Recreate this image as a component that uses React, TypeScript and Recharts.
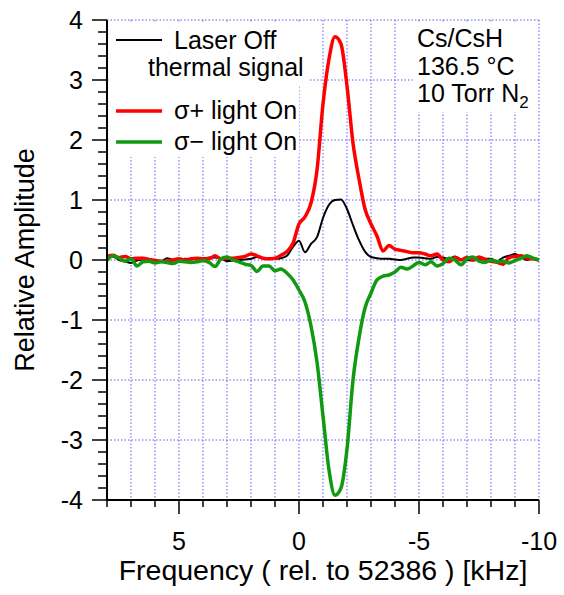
import { LineChart, Line, XAxis, YAxis, CartesianGrid } from "recharts";

const FONT = "'Liberation Sans', Arial, Helvetica, sans-serif";
const GRID_COLOR = "#5c5cf5";

// frequency (kHz, rel. to 52386), 0.25 kHz steps from 8 down to -10
const FREQ = [
  8, 7.75, 7.5, 7.25, 7, 6.75, 6.5, 6.25, 6,
  5.75, 5.5, 5.25, 5, 4.75, 4.5, 4.25, 4,
  3.75, 3.5, 3.25, 3, 2.75, 2.5, 2.25, 2,
  1.75, 1.5, 1.25, 1, 0.75, 0.5, 0.25, 0,
  -0.25, -0.5, -0.75, -1, -1.25, -1.5, -1.75, -2,
  -2.25, -2.5, -2.75, -3, -3.25, -3.5, -3.75, -4,
  -4.25, -4.5, -4.75, -5, -5.25, -5.5, -5.75, -6,
  -6.25, -6.5, -6.75, -7, -7.25, -7.5, -7.75, -8,
  -8.25, -8.5, -8.75, -9, -9.25, -9.5, -9.75, -10,
];

const LASER_OFF = [
  0.02, 0.06, 0.0, -0.02, -0.05, -0.01, 0.01, 0.0, -0.01,
  -0.02, 0.03, 0.0, -0.02, 0.02, 0.01, 0.02, 0.02,
  0.04, 0.04, 0.03, -0.02, -0.01, 0.0, 0.01, 0.02,
  0.05, 0.03, 0.02, 0.02, 0.03, 0.07, 0.22, 0.32,
  0.13, 0.27, 0.38, 0.7, 0.92, 1.0, 1.01, 0.85,
  0.58, 0.33, 0.14, 0.05, 0.03, 0.02, 0.02, 0.01,
  0.0, 0.02, 0.04, 0.04, 0.03, 0.02, 0.05, 0.04,
  0.02, 0.06, 0.01, 0.0, -0.01, 0.02, 0.02, 0.02,
  -0.02, 0.04, 0.07, 0.1, 0.05, 0.0, 0.02, 0.01,
];

const SIGMA_PLUS = [
  0.06, 0.08, 0.04, 0.06, 0.02, 0.03, 0.03, 0.01, -0.01,
  -0.02, -0.02, 0.0, 0.02, 0.0, 0.02, 0.03, 0.02,
  0.02, 0.07, 0.02, 0.03, 0.03, 0.04, 0.06, 0.1,
  0.07, 0.03, 0.02, 0.03, 0.08, 0.14, 0.28, 0.6,
  0.72, 0.95, 1.5, 2.6, 3.35, 3.72, 3.6, 2.9,
  1.95, 1.35, 0.85, 0.6, 0.4, 0.15, 0.24, 0.18,
  0.16, 0.14, 0.12, 0.12, 0.1, 0.07, 0.1, 0.0,
  -0.03, 0.04, 0.0, 0.04, 0.0, 0.05, 0.01, -0.02,
  -0.04, -0.07, 0.04, 0.06, 0.07, 0.03, 0.02, 0.0,
];

const SIGMA_MINUS = [
  -0.01, 0.07, 0.03, -0.02, 0.02, -0.1, -0.03, -0.02, -0.05,
  -0.03, -0.04, -0.06, -0.02, -0.03, -0.04, -0.03, -0.01,
  -0.04, -0.11, 0.02, 0.05, 0.0, -0.03, -0.07, -0.09,
  -0.19, -0.1, -0.1, -0.18, -0.15, -0.22, -0.33, -0.5,
  -0.7, -1.1, -1.7, -2.6, -3.5, -3.92, -3.8, -3.15,
  -2.0, -1.3, -0.8, -0.55, -0.33, -0.27, -0.25, -0.2,
  -0.12, -0.15, -0.1, -0.04, -0.08, -0.03, -0.1, -0.06,
  0.03, 0.0, -0.08, 0.02, 0.05, -0.02, -0.04, 0.0,
  -0.03, -0.02, -0.05, -0.01, 0.03, 0.07, 0.03, 0.0,
];

const X_TICKS = [8, 7, 6, 5, 4, 3, 2, 1, 0, -1, -2, -3, -4, -5, -6, -7, -8, -9, -10];
const X_LABELED = [5, 0, -5, -10];
const Y_LABELED = [4, 3, 2, 1, 0, -1, -2, -3, -4];
// minor ticks every 0.2
const Y_TICKS = Array.from({ length: 41 }, (_, i) => Math.round((-4 + i * 0.2) * 10) / 10);

const data = FREQ.map((f, i) => ({
  f,
  off: LASER_OFF[i],
  plus: SIGMA_PLUS[i],
  minus: SIGMA_MINUS[i],
}));

function XTick({ x, y, payload }: any) {
  const v = payload.value;
  const major = X_LABELED.includes(v);
  return (
    <g>
      <line x1={x} x2={x} y1={y} y2={y + (major ? 14 : 7)} stroke="#000" strokeWidth={1.5} />
      {major && (
        <text x={x} y={y + 50} textAnchor="middle" fontSize={25} fontFamily={FONT} fill="#000">
          {v}
        </text>
      )}
    </g>
  );
}

function YTick({ x, y, payload }: any) {
  const v = payload.value;
  const major = Number.isInteger(v);
  return (
    <g>
      <line x1={x} x2={x - (major ? 15 : 9)} y1={y} y2={y} stroke="#000" strokeWidth={1.5} />
      {major && (
        <text x={x - 24} y={y} dy="0.36em" textAnchor="end" fontSize={25} fontFamily={FONT} fill="#000">
          {v}
        </text>
      )}
    </g>
  );
}

export default function App() {
  const txt = { fontSize: 25, fontFamily: FONT, fill: "#000" };
  return (
    <div style={{ position: "absolute", left: 0, top: 0, width: 564, height: 595, background: "#fff" }}>
      <LineChart width={564} height={595} data={data} margin={{ top: 20, right: 25, bottom: 0, left: 0 }}>
        <CartesianGrid stroke={GRID_COLOR} strokeWidth={1} strokeDasharray="1.5 2" horizontalValues={Y_LABELED} />
        <XAxis
          dataKey="f"
          type="number"
          domain={[-10, 8]}
          reversed
          ticks={X_TICKS}
          interval={0}
          height={95}
          tickSize={0}
          tickMargin={0}
          tickLine={false}
          axisLine={{ stroke: "#000", strokeWidth: 2 }}
          tick={<XTick />}
        />
        <YAxis
          type="number"
          domain={[-4, 4]}
          ticks={Y_TICKS}
          interval={0}
          width={107}
          tickSize={0}
          tickMargin={0}
          tickLine={false}
          axisLine={{ stroke: "#000", strokeWidth: 2 }}
          tick={<YTick />}
        />
        <Line type="monotone" dataKey="off" stroke="#000" strokeWidth={2} dot={false} isAnimationActive={false} />
        <Line type="monotone" dataKey="plus" stroke="#ff0000" strokeWidth={3.5} dot={false} isAnimationActive={false} />
        <Line type="monotone" dataKey="minus" stroke="#119911" strokeWidth={3.5} dot={false} isAnimationActive={false} />
      </LineChart>

      <svg width={564} height={595} style={{ position: "absolute", left: 0, top: 0, pointerEvents: "none" }}>
        {/* legend */}
        <rect x={110} y={22} width={189} height={135} fill="#fff" />
        <rect x={299} y={22} width={10} height={63} fill="#fff" />
        <line x1={116} x2={162} y1={40} y2={40} stroke="#000" strokeWidth={2} />
        <text x={174} y={49} {...txt}>Laser Off</text>
        <text x={148} y={76} {...txt}>thermal signal</text>
        <line x1={116} x2={162} y1={111} y2={111} stroke="#ff0000" strokeWidth={3.5} />
        <text x={174} y={119} {...txt}>σ+ light On</text>
        <line x1={116} x2={162} y1={142} y2={142} stroke="#119911" strokeWidth={3.5} />
        <text x={174} y={150} {...txt}>σ− light On</text>

        {/* conditions */}
        <rect x={414} y={22} width={123} height={90} fill="#fff" />
        <text x={417} y={47} {...txt}>Cs/CsH</text>
        <text x={417} y={75} {...txt}>136.5 °C</text>
        <text x={417} y={102} {...txt}>
          10 Torr N<tspan fontSize={17} dy={6}>2</tspan>
        </text>

        {/* axis titles */}
        <text x={323} y={580} textAnchor="middle" fontSize={28.5} fontFamily={FONT} fill="#000">
          Frequency ( rel. to 52386 ) [kHz]
        </text>
        <text
          x={34}
          y={260}
          transform="rotate(-90 34 260)"
          textAnchor="middle"
          fontSize={27}
          fontFamily={FONT}
          fill="#000"
        >
          Relative Amplitude
        </text>
      </svg>
    </div>
  );
}
